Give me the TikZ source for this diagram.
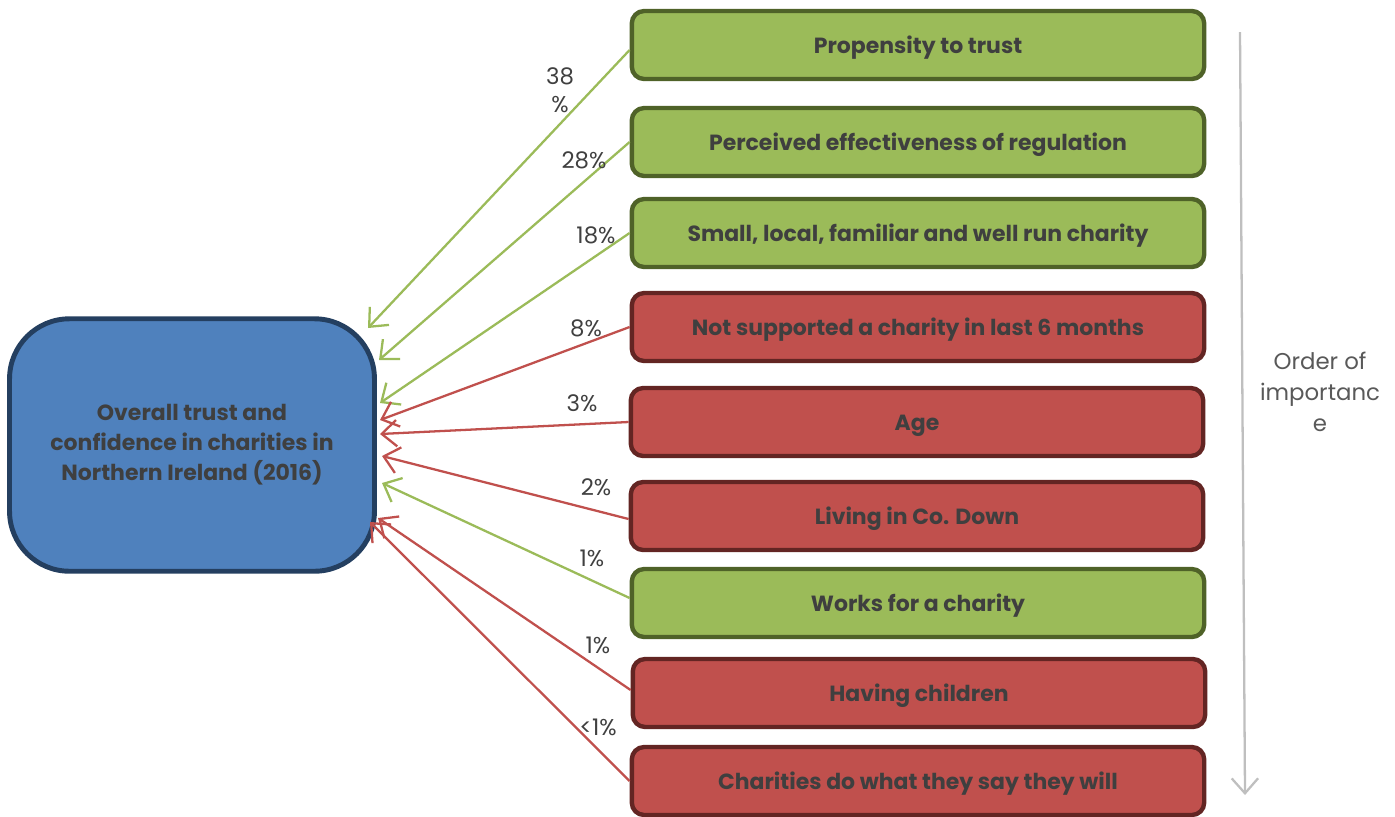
\documentclass[tikz,border=0pt]{standalone}
\usepackage{fontspec}
\setmainfont{Poppins}
\usetikzlibrary{arrows.meta,positioning}
\definecolor{greenfill}{HTML}{9BBB59}
\definecolor{greendraw}{HTML}{4F6228}
\definecolor{redfill}{HTML}{C0504D}
\definecolor{reddraw}{HTML}{632523}
\definecolor{bluefill}{HTML}{4F81BD}
\definecolor{bluedraw}{HTML}{243F60}
\definecolor{boxtext}{HTML}{3F3F3F}
\definecolor{pcttext}{HTML}{404040}

\begin{document}
\begin{tikzpicture}[x=0.02cm,y=-0.02cm,>={Straight Barb[length=8.5pt,width=15pt]},
		factor node/.style={rectangle,rounded corners=7pt,line width=2.5pt,minimum width=11.45cm,minimum height=1.36cm,
			text height=1.95ex,text depth=0.2ex,
			text=boxtext,font=\fontsize{12.5}{15}\selectfont\bfseries},
		plus node/.style={factor node,fill=greenfill,draw=greendraw},
		minus node/.style={factor node,fill=redfill,draw=reddraw},
		pct/.style={text=pcttext,font=\fontsize{13}{16}\selectfont,inner sep=1pt},
		plus line/.style={->,draw=greenfill,line width=1.3pt},
		minus line/.style={->,draw=redfill,line width=1.3pt}]
		\useasboundingbox (0,0) rectangle (1395,816);
		
		% outcome
		\node[rectangle,rounded corners=1.2cm,fill=bluefill,draw=bluedraw,line width=2.8pt,
			minimum width=7.3cm,minimum height=5.05cm,text=boxtext,align=center,
			font=\fontsize{12.5}{17}\selectfont\bfseries] (trust) at (192,445)
			{Overall trust and\\confidence in charities in\\Northern Ireland (2016)};
		
		% drivers, in order of importance
		\node[plus node] (propensity) at (918,45) {Propensity to trust};
		\node[plus node] (regulation) at (918,142) {Perceived effectiveness of regulation};
		\node[plus node] (small) at (918,233) {Small, local, familiar and well run charity};
		\node[minus node] (notsupp) at (918,327) {Not supported a charity in last 6 months};
		\node[minus node] (age) at (917,422) {Age};
		\node[minus node] (down) at (917,516) {Living in Co. Down};
		\node[plus node] (works) at (918,603) {Works for a charity};
		\node[minus node] (children) at (919,693) {Having children};
		\node[minus node] (dowhat) at (918,781) {Charities do what they say they will};
		
		% arrow ends on the outcome box
		\coordinate (in1) at (368,328);
		\coordinate (in2) at (379,360);
		\coordinate (in3) at (380,403);
		\coordinate (in4) at (380,420);
		\coordinate (in5) at (380,434);
		\coordinate (in6) at (382,456);
		\coordinate (in7) at (382,483);
		\coordinate (in8) at (378,518);
		\coordinate (in9) at (370,522);
		
		\path ([yshift=-0.1cm]propensity.west) edge[plus line] (in1)
		(regulation.west) edge[plus line] (in2)
		(small.west) edge[plus line] (in3)
		(notsupp.west) edge[minus line] (in4)
		(age.west) edge[minus line] (in5)
		([yshift=-0.06cm]down.west) edge[minus line] (in6)
		([yshift=0.1cm]works.west) edge[plus line] (in7)
		([yshift=0.06cm]children.west) edge[minus line] (in8)
		(dowhat.west) edge[minus line] (in9);
		
		% weights
		\node[pct,align=center] (w1) at (560,90) {38\\\%};
		\node[pct] (w2) at (584,160) {28\%};
		\node[pct] (w3) at (596,235) {18\%};
		\node[pct] (w4) at (586,328) {8\%};
		\node[pct] (w5) at (582,403) {3\%};
		\node[pct] (w6) at (596,487) {2\%};
		\node[pct] (w7) at (592,558) {1\%};
		\node[pct] (w8) at (598,645) {1\%};
		\node[pct] (w9) at (598,727) {<1\%};
		
		% order of importance
		\coordinate (top) at (1240,32);
		\coordinate (bottom) at (1245,795);
		\draw[->,draw=black!25,line width=1.3pt] (top) -- (bottom);
		\node[align=center,text=black!65,font=\fontsize{13}{17.5}\selectfont] (order) at (1320,392)
			{Order of\\importanc\\e};
		
		\end{tikzpicture}
\end{document}
